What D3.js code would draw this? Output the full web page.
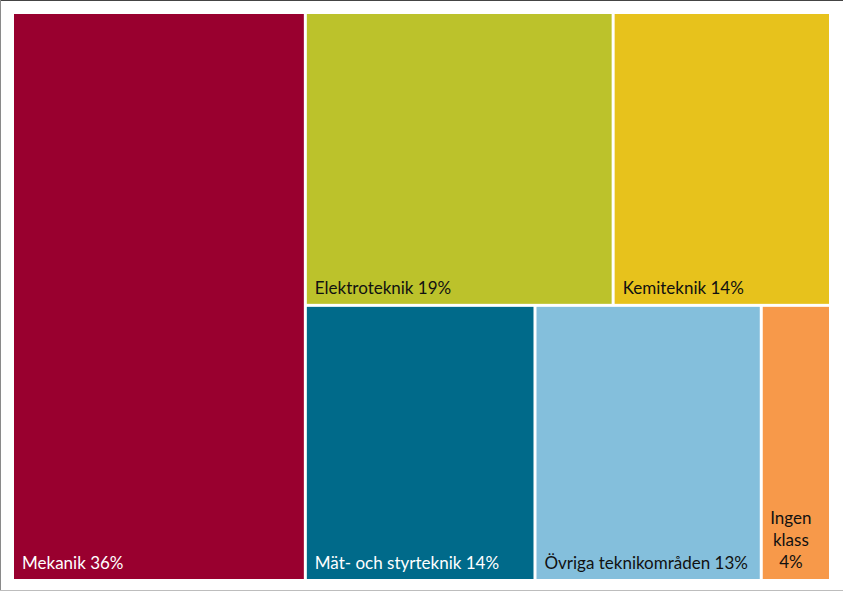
<!DOCTYPE html>
<html lang="sv">
<head>
  <meta charset="utf-8">
  <title>Treemap teknikområden</title>
  <style>
    body { margin: 0; background: #fff; }
    svg { display: block; font-family: Lato, "Open Sans", sans-serif; }
  </style>
</head>
<body>
  <script src="https://cdn.jsdelivr.net/npm/d3@7/dist/d3.min.js"></script>
  <script>
    var w = 843
    var h = 593

    // andelar i procent (etiketten visar avrundat värde)
    var categories = ["Mekanik", "Elektroteknik", "Kemiteknik", "Mät- och styrteknik", "Övriga teknikområden", "Ingen klass"]
    var values = [35.8, 19.4, 13.7, 13.6, 13.4, 4.1]
    var colors = ["#99002f", "#bcc22b", "#e7c21c", "#006a8a", "#84bfdc", "#f7994a"]
    var textColors = ["#ffffff", "#111111", "#111111", "#ffffff", "#111111", "#111111"]

    var svg = d3.select("body")
      .append("svg")
      .attr("width", w)
      .attr("height", h)

    // ram runt diagrammet
    svg.append("rect")
      .attr("x", 0.5).attr("y", 0.5)
      .attr("width", w).attr("height", 590)
      .attr("fill", "none")
      .attr("stroke", "#bdbdbd")
    svg.append("line")
      .attr("x1", 0).attr("x2", w)
      .attr("y1", 0.5).attr("y2", 0.5)
      .attr("stroke", "#444")
    svg.append("line")
      .attr("x1", 0.5).attr("x2", 0.5)
      .attr("y1", 0).attr("y2", 590)
      .attr("stroke", "#8a8a8a")

    var items = categories.map(function(c, i) {
      return { name: c, value: values[i], color: colors[i], text: textColors[i] }
    })

    var root = d3.hierarchy({ children: items })
      .sum(function(d) { return d.value || 0 })

    d3.treemap()
      .tile(d3.treemapSquarify.ratio(1))
      .size([815, 565])
      .paddingInner(3)(root)

    var g = svg.append("g").attr("transform", "translate(14,14)")

    var cell = g.selectAll("g.cell")
      .data(root.leaves())
      .enter().append("g")
      .attr("class", "cell")

    cell.append("rect")
      .attr("x", function(d) { return d.x0 })
      .attr("y", function(d) { return d.y0 })
      .attr("width", function(d) { return d.x1 - d.x0 })
      .attr("height", function(d) { return d.y1 - d.y0 })
      .attr("fill", function(d) { return d.data.color })

    cell.each(function(d) {
      var t = d3.select(this).append("text")
        .attr("fill", d.data.text)
        .style("font-size", "17px")
      var pct = Math.round(d.data.value) + "%"
      if (d.x1 - d.x0 < 100) {
        // smal ruta: centrerad text på tre rader
        var lines = d.data.name.split(" ").concat([pct])
        var cx = (d.x0 + d.x1) / 2 - 5
        t.attr("text-anchor", "middle")
        lines.forEach(function(l, i) {
          t.append("tspan")
            .attr("x", cx)
            .attr("y", d.y1 - 11 - (lines.length - 1 - i) * 22)
            .text(l)
        })
      } else {
        t.attr("x", d.x0 + 8)
          .attr("y", d.y1 - 10)
          .text(d.data.name + " " + pct)
      }
    })
  </script>
</body>
</html>
